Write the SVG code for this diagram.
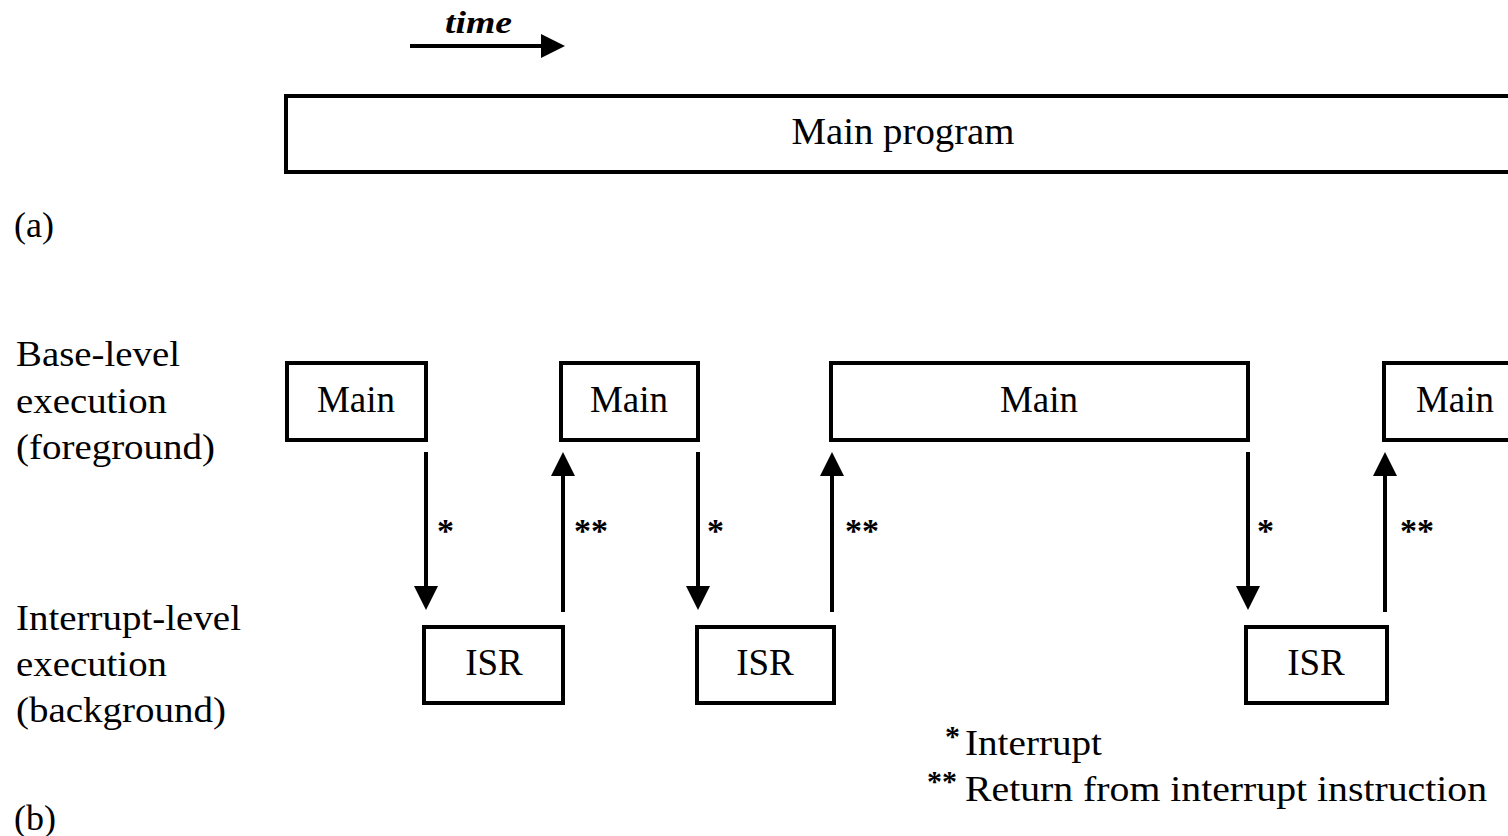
<svg xmlns="http://www.w3.org/2000/svg" width="1508" height="836" viewBox="0 0 1508 836">
<style>
text{font-family:"Liberation Serif","Times New Roman",serif;fill:#000}
.box{fill:#fff;stroke:#000;stroke-width:4}
.lbl{font-size:36px}
.node{font-size:37px;text-anchor:middle}
.star{font-size:34px;font-weight:bold}
.conn{stroke:#000;stroke-width:4;fill:none}
</style>
<defs>
<marker id="ah" markerWidth="6" markerHeight="6" refX="5" refY="3" orient="auto" markerUnits="strokeWidth">
<path d="M0,0 L6,3 L0,6 z" fill="#000"/>
</marker>
</defs>
<g id="time-axis">
<text x="445" y="33" font-size="32" font-style="italic" font-weight="bold" textLength="67" lengthAdjust="spacingAndGlyphs">time</text>
<line class="conn" x1="410" y1="46" x2="561" y2="46" stroke-width="3.5" marker-end="url(#ah)"/>
</g>
<g id="main-program">
<rect class="box" x="286" y="96" width="1240" height="76"/>
<text class="node" x="903" y="144" textLength="223" lengthAdjust="spacingAndGlyphs">Main program</text>
</g>
<text class="lbl" x="14" y="237">(a)</text>
<g id="labels-base">
<text class="lbl" x="16" y="366" textLength="164" lengthAdjust="spacingAndGlyphs">Base-level</text>
<text class="lbl" x="16" y="413" textLength="151" lengthAdjust="spacingAndGlyphs">execution</text>
<text class="lbl" x="16" y="459" textLength="199" lengthAdjust="spacingAndGlyphs">(foreground)</text>
</g>
<g id="labels-int">
<text class="lbl" x="16" y="630" textLength="225" lengthAdjust="spacingAndGlyphs">Interrupt-level</text>
<text class="lbl" x="16" y="676" textLength="151" lengthAdjust="spacingAndGlyphs">execution</text>
<text class="lbl" x="16" y="722" textLength="210" lengthAdjust="spacingAndGlyphs">(background)</text>
</g>
<text class="lbl" x="14" y="830">(b)</text>
<g id="main1"><rect class="box" x="287" y="363" width="139" height="77"/><text class="node" x="356" y="412">Main</text></g>
<g id="main2"><rect class="box" x="561" y="363" width="137" height="77"/><text class="node" x="629" y="412">Main</text></g>
<g id="main3"><rect class="box" x="831" y="363" width="417" height="77"/><text class="node" x="1039" y="412">Main</text></g>
<g id="main4"><rect class="box" x="1384" y="363" width="140" height="77"/><text class="node" x="1455" y="412">Main</text></g>
<g id="isr1"><rect class="box" x="424" y="627" width="139" height="76"/><text class="node" x="494" y="675">ISR</text></g>
<g id="isr2"><rect class="box" x="697" y="627" width="137" height="76"/><text class="node" x="765" y="675">ISR</text></g>
<g id="isr3"><rect class="box" x="1246" y="627" width="141" height="76"/><text class="node" x="1316" y="675">ISR</text></g>
<g id="connectors">
<line class="conn" x1="426" y1="452" x2="426" y2="606" marker-end="url(#ah)"/>
<line class="conn" x1="563" y1="612" x2="563" y2="456" marker-end="url(#ah)"/>
<line class="conn" x1="698" y1="452" x2="698" y2="606" marker-end="url(#ah)"/>
<line class="conn" x1="832" y1="612" x2="832" y2="456" marker-end="url(#ah)"/>
<line class="conn" x1="1248" y1="452" x2="1248" y2="606" marker-end="url(#ah)"/>
<line class="conn" x1="1385" y1="612" x2="1385" y2="456" marker-end="url(#ah)"/>
<text class="star" x="437" y="542">*</text>
<text class="star" x="574" y="542">**</text>
<text class="star" x="707" y="542">*</text>
<text class="star" x="845" y="542">**</text>
<text class="star" x="1257" y="542">*</text>
<text class="star" x="1400" y="542">**</text>
</g>
<g id="legend">
<text x="945" y="746" font-size="30" font-weight="bold">*</text>
<text class="lbl" x="965" y="755" textLength="137" lengthAdjust="spacingAndGlyphs">Interrupt</text>
<text x="927" y="791" font-size="30" font-weight="bold">**</text>
<text class="lbl" x="965" y="801" textLength="522" lengthAdjust="spacingAndGlyphs">Return from interrupt instruction</text>
</g>
</svg>
